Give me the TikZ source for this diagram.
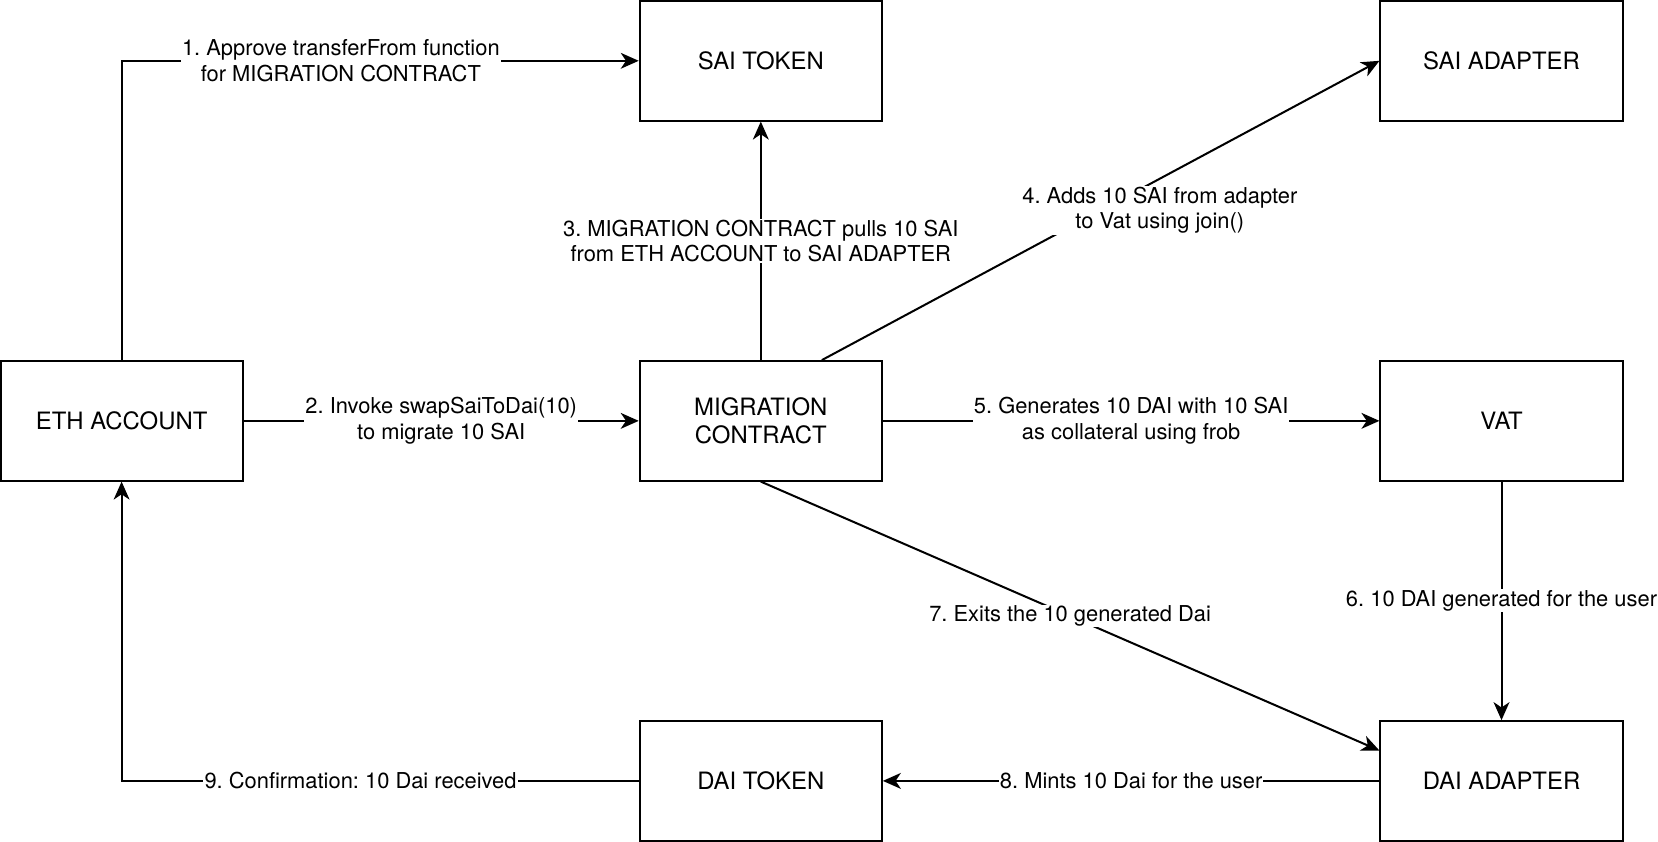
\documentclass[tikz,border=0pt]{standalone}
\usepackage{fontspec}
\setmainfont{TeX Gyre Heros}
\usetikzlibrary{arrows.meta,calc}
\frenchspacing
\begin{document}
\begin{tikzpicture}[x=1pt,y=-1pt,
  box/.style={draw, line width=1.9pt, minimum width=229pt, minimum height=113pt, inner sep=0pt, align=center, font=\fontsize{22.6}{26.5}\selectfont},
  conn/.style={line width=1.9pt, -{Stealth[length=17pt,width=15pt,inset=5pt]}},
  lbl/.style={fill=white, inner sep=1pt, align=center, font=\fontsize{20.7}{24}\selectfont}]
\useasboundingbox (0,0) rectangle (1568,796);
\node[box] (eth) at (115,398) {ETH ACCOUNT};
\node[box] (saitok) at (719.5,57.5) {SAI TOKEN};
\node[box] (saiadp) at (1420,57.5) {SAI ADAPTER};
\node[box] (mig) at (719.5,398) {MIGRATION\\CONTRACT};
\node[box] (vat) at (1420,398) {VAT};
\node[box] (daitok) at (719.5,738.5) {DAI TOKEN};
\node[box] (daiadp) at (1420,738.5) {DAI ADAPTER};
\draw[conn] (eth.north) |- node[lbl,pos=0.712]{1. Approve transferFrom function\\for MIGRATION CONTRACT} (saitok.west);
\draw[conn] (eth.east) -- node[lbl]{2. Invoke swapSaiToDai(10)\\to migrate 10 SAI} (mig.west);
\draw[conn] (mig.north) -- node[lbl]{3. MIGRATION CONTRACT pulls 10 SAI\\from ETH ACCOUNT to SAI ADAPTER} (saitok.south);
\coordinate (m4) at ($(mig.north west)!0.75!(mig.north east)$);
\draw[conn] (m4) -- node[lbl,xshift=56pt]{4. Adds 10 SAI from adapter\\to Vat using join()} (saiadp.west);
\draw[conn] (mig.east) -- node[lbl]{5. Generates 10 DAI with 10 SAI\\as collateral using frob} (vat.west);
\draw[conn] (vat.south) -- node[lbl]{6. 10 DAI generated for the user} (daiadp.north);
\coordinate (d7) at ($(daiadp.north west)!0.25!(daiadp.south west)$);
\draw[conn] (mig.south) -- node[lbl]{7. Exits the 10 generated Dai} (d7);
\draw[conn] (daiadp.west) -- node[lbl]{8. Mints 10 Dai for the user} (daitok.east);
\draw[conn] (daitok.west) -| node[lbl,pos=0.269]{9. Confirmation: 10 Dai received} (eth.south);
\end{tikzpicture}
\end{document}
